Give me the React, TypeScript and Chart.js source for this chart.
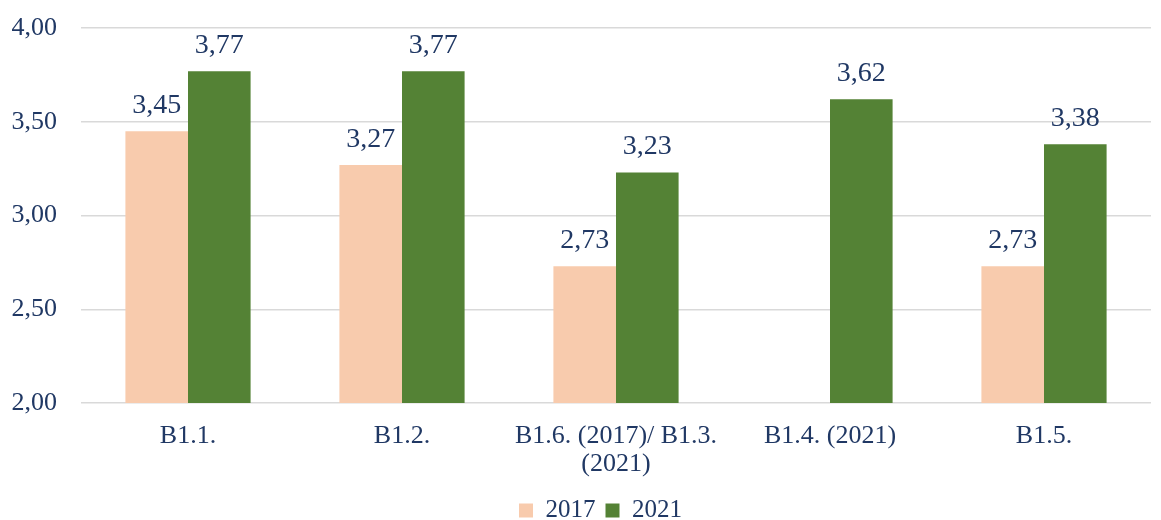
import React, { useEffect, useRef } from "react";
import { Chart, registerables } from "chart.js";

Chart.register(...registerables);

const categories: (string | string[])[] = [
  "B1.1.",
  "B1.2.",
  ["B1.6. (2017)/ B1.3.", "(2021)"],
  "B1.4. (2021)",
  "B1.5.",
];
const values2017: (number | null)[] = [3.45, 3.27, 2.73, null, 2.73];
const values2021: number[] = [3.77, 3.77, 3.23, 3.62, 3.38];
const yTicks = [2.0, 2.5, 3.0, 3.5, 4.0];

const TEXT = "#203864";
const FONT = "'Liberation Serif', 'Times New Roman', serif";

const fmt = (v: number) => v.toFixed(2).replace(".", ",");

const labelPlugin = {
  id: "barLabels",
  afterLayout(chart: any) {
    if (chart.legend) {
      chart.legend.left += 25;
      chart.legend.right += 25;
    }
  },
  afterDatasetsDraw(chart: any) {
    const ctx = chart.ctx;
    ctx.save();
    ctx.fillStyle = TEXT;
    ctx.font = `28px ${FONT}`;
    ctx.textAlign = "center";
    ctx.textBaseline = "alphabetic";
    chart.data.datasets.forEach((ds: any, di: number) => {
      const meta = chart.getDatasetMeta(di);
      meta.data.forEach((el: any, i: number) => {
        const v = ds.data[i];
        if (v == null) return;
        ctx.fillText(fmt(v), el.x, el.y - 18);
      });
    });
    ctx.restore();
  },
};

export default function App() {
  const ref = useRef<HTMLCanvasElement>(null);
  useEffect(() => {
    document.body.style.margin = "0";
    const chart = new Chart(ref.current!, {
      type: "bar",
      data: {
        labels: categories,
        datasets: [
          {
            label: "2017",
            data: values2017,
            backgroundColor: "#F8CBAD",
            categoryPercentage: 0.585,
            barPercentage: 1,
          },
          {
            label: "2021",
            data: values2021,
            backgroundColor: "#548235",
            categoryPercentage: 0.585,
            barPercentage: 1,
          },
        ],
      },
      options: {
        animation: false,
        responsive: false,
        maintainAspectRatio: false,
        layout: { padding: { top: 0, right: 10, left: 0, bottom: -13 } },
        scales: {
          x: {
            grid: { display: false },
            border: { display: false },
            afterFit: (axis: any) => {
              axis.height = 85;
            },
            ticks: {
              color: TEXT,
              font: { family: FONT, size: 26, lineHeight: 1.08 },
              maxRotation: 0,
              autoSkip: false,
              padding: 11,
            },
          },
          y: {
            min: 2,
            max: 4,
            afterFit: (axis: any) => {
              axis.width = 81;
              axis.paddingTop = 28;
              axis.paddingBottom = 0;
            },
            afterBuildTicks: (axis: any) => {
              axis.ticks = yTicks.map((v) => ({ value: v }));
            },
            grid: { color: "#d9d9d9", lineWidth: 1.5, drawTicks: false },
            border: { display: false },
            ticks: {
              color: TEXT,
              font: { family: FONT, size: 26 },
              padding: 24,
              callback: (v: any) => fmt(Number(v)),
            },
          },
        },
        plugins: {
          legend: {
            position: "bottom",
            labels: {
              color: TEXT,
              font: { family: FONT, size: 25 },
              boxWidth: 14,
              boxHeight: 14,
              padding: 10,
            },
          },
          tooltip: { enabled: false },
        },
      },
      plugins: [labelPlugin],
    });
    return () => chart.destroy();
  }, []);
  return (
    <div style={{ width: 1161, height: 520 }}>
      <canvas ref={ref} width={1161} height={520} style={{ display: "block" }} />
    </div>
  );
}
